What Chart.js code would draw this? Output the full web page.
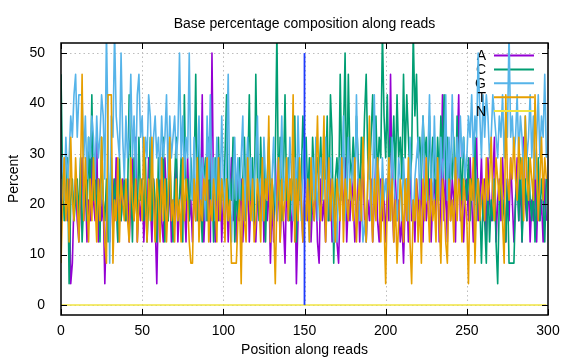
<!DOCTYPE html>
<html><head><meta charset="utf-8">
<script src="https://cdn.jsdelivr.net/npm/chart.js@4/dist/chart.umd.min.js"></script>
<style>html,body{margin:0;padding:0;background:#fff}#wrap{width:576px;height:360px;position:relative}</style>
</head><body><div id="wrap"><canvas id="c" width="576" height="360"></canvas></div>
<script>
const chartTitle = 'Base percentage composition along reads';
const xTitle = 'Position along reads';
const yTitle = 'Percent';
const seriesNames = ['A', 'C', 'G', 'T', 'N'];
const seriesColors = ['#9400d3', '#009e73', '#56b4e9', '#e69f00', '#f0e442'];
const markerColor = '#1f3cff';
const xTicks = [0, 50, 100, 150, 200, 250, 300];
const yTicks = [0, 10, 20, 30, 40, 50];

const pctA = [
16.7,20.8,25,20.8,16.7,25,4.2,8.3,20.8,25, 16.7,12.5,20.8,29.2,16.7,25,12.5,20.8,16.7,29.2,
20.8,16.7,33.3,12.5,25,16.7,20.8,4.2,16.7,25, 12.5,20.8,25,16.7,29.2,12.5,20.8,16.7,25,20.8,
16.7,25,12.5,20.8,29.2,16.7,33.3,12.5,20.8,16.7, 25,12.5,20.8,16.7,29.2,20.8,12.5,25,16.7,4.2,
20.8,25,16.7,12.5,29.2,20.8,16.7,25,12.5,20.8, 16.7,29.2,12.5,20.8,25,16.7,20.8,12.5,29.2,16.7,
20.8,12.5,25,16.7,20.8,29.2,16.7,41.7,12.5,20.8, 16.7,25,12.5,50,20.8,12.5,25,16.7,29.2,12.5,
20.8,16.7,25,12.5,20.8,29.2,16.7,20.8,12.5,25, 16.7,25,12.5,20.8,16.7,29.2,12.5,20.8,25,16.7,
12.5,20.8,25,16.7,29.2,12.5,20.8,16.7,25,8.3, 20.8,12.5,29.2,16.7,25,12.5,20.8,16.7,8.3,25,
16.7,25,12.5,20.8,29.2,4.2,16.7,25,20.8,12.5, 20.8,29.2,16.7,25,12.5,20.8,16.7,25,12.5,8.3,
25,16.7,20.8,12.5,29.2,16.7,25,12.5,20.8,16.7, 12.5,8.3,20.8,25,16.7,29.2,12.5,20.8,16.7,25,
20.8,12.5,16.7,25,12.5,20.8,29.2,16.7,12.5,20.8, 16.7,25,12.5,20.8,29.2,16.7,12.5,25,16.7,20.8,
12.5,25,16.7,45.8,20.8,12.5,25,16.7,20.8,12.5, 16.7,8.3,20.8,25,12.5,29.2,16.7,20.8,12.5,25,
20.8,16.7,25,12.5,29.2,16.7,20.8,25,12.5,20.8, 25,16.7,29.2,12.5,20.8,41.7,16.7,25,12.5,29.2,
16.7,25,20.8,12.5,29.2,41.7,16.7,25,12.5,20.8, 25,16.7,29.2,20.8,12.5,25,33.3,16.7,20.8,29.2,
16.7,25,12.5,29.2,20.8,16.7,25,33.3,12.5,20.8, 25,16.7,29.2,20.8,12.5,25,16.7,29.2,20.8,12.5,
20.8,29.2,16.7,25,12.5,33.3,20.8,16.7,25,12.5, 20.8,16.7,29.2,12.5,25,16.7,20.8,12.5,25,16.7
];
const pctC = [
45.8,25,16.7,20.8,29.2,4.2,20.8,25,16.7,20.8, 25,16.7,29.2,12.5,20.8,25,16.7,33.3,20.8,41.7,
20.8,29.2,16.7,25,12.5,33.3,20.8,16.7,25,12.5, 20.8,29.2,16.7,25,20.8,12.5,29.2,16.7,20.8,25,
16.7,20.8,41.7,25,12.5,29.2,20.8,16.7,33.3,20.8, 25,16.7,29.2,12.5,20.8,33.3,16.7,25,20.8,12.5,
29.2,16.7,20.8,33.3,12.5,25,16.7,29.2,20.8,12.5, 25,33.3,16.7,20.8,29.2,12.5,41.7,20.8,25,16.7,
29.2,20.8,25,45.8,16.7,33.3,20.8,12.5,25,29.2, 16.7,33.3,20.8,25,12.5,29.2,20.8,33.3,16.7,25,
20.8,29.2,41.7,16.7,25,20.8,33.3,12.5,25,16.7, 29.2,20.8,25,33.3,16.7,25,41.7,20.8,29.2,16.7,
45.8,25,16.7,33.3,20.8,29.2,12.5,25,33.3,20.8, 25,16.7,29.2,54.2,20.8,33.3,16.7,25,41.7,20.8,
29.2,16.7,25,20.8,37.5,12.5,29.2,20.8,25,37.5, 25,33.3,20.8,29.2,16.7,33.3,25,20.8,29.2,25,
33.3,20.8,29.2,25,37.5,16.7,41.7,33.3,8.3,25, 29.2,20.8,45.8,25,33.3,50,20.8,45.8,29.2,25,
33.3,25,37.5,29.2,20.8,33.3,25,37.5,45.8,29.2, 25,33.3,41.7,29.2,37.5,25,33.3,29.2,54.2,37.5,
29.2,41.7,25,33.3,29.2,37.5,25,41.7,29.2,33.3, 25,45.8,29.2,41.7,33.3,25,29.2,54.2,37.5,45.8,
29.2,33.3,25,37.5,29.2,33.3,20.8,37.5,25,33.3, 29.2,20.8,33.3,25,37.5,29.2,41.7,25,33.3,20.8,
29.2,25,33.3,20.8,37.5,25,29.2,20.8,33.3,25, 20.8,29.2,16.7,25,20.8,33.3,16.7,25,20.8,8.3,
20.8,16.7,8.3,25,12.5,20.8,16.7,25,12.5,4.2, 20.8,25,16.7,20.8,12.5,25,8.3,8.3,8.3,8.3,
20.8,25,16.7,29.2,12.5,20.8,25,16.7,29.2,20.8, 16.7,25,12.5,20.8,29.2,16.7,25,20.8,12.5,25
];
const pctG = [
25,29.2,20.8,33.3,25,29.2,37.5,33.3,41.7,45.8, 33.3,41.7,41.7,41.7,29.2,37.5,25,33.3,29.2,37.5,
33.3,25,37.5,29.2,33.3,41.7,37.5,25,54.2,33.3, 8.3,37.5,33.3,54.2,37.5,33.3,29.2,50,33.3,25,
37.5,29.2,33.3,45.8,29.2,37.5,25,41.7,45.8,33.3, 37.5,25,33.3,29.2,41.7,37.5,25,33.3,37.5,29.2,
33.3,25,37.5,29.2,33.3,41.7,25,37.5,29.2,33.3, 37.5,29.2,33.3,50,29.2,37.5,25,33.3,29.2,50,
25,20.8,33.3,16.7,29.2,37.5,20.8,29.2,25,16.7, 37.5,25,41.7,20.8,29.2,16.7,33.3,25,20.8,37.5,
25,16.7,29.2,45.8,20.8,12.5,25,33.3,20.8,29.2, 20.8,29.2,37.5,16.7,25,33.3,20.8,29.2,16.7,25,
29.2,37.5,20.8,25,16.7,33.3,25,20.8,29.2,16.7, 25,33.3,20.8,16.7,29.2,25,37.5,20.8,25,29.2,
20.8,33.3,25,16.7,29.2,20.8,37.5,25,16.7,29.2, 33.3,25,20.8,12.5,25,29.2,20.8,33.3,16.7,25,
29.2,20.8,25,33.3,16.7,25,29.2,20.8,12.5,16.7, 12.5,25,29.2,20.8,37.5,16.7,25,33.3,20.8,25,
29.2,20.8,41.7,25,16.7,20.8,12.5,16.7,12.5,25, 29.2,16.7,25,41.7,20.8,29.2,25,16.7,29.2,20.8,
25,20.8,29.2,16.7,33.3,25,20.8,16.7,29.2,25, 16.7,29.2,20.8,25,16.7,33.3,20.8,16.7,25,29.2,
33.3,20.8,29.2,37.5,25,20.8,29.2,41.7,25,20.8, 37.5,25,29.2,20.8,33.3,25,29.2,41.7,20.8,33.3,
25,41.7,29.2,20.8,33.3,25,37.5,29.2,33.3,25, 29.2,37.5,33.3,41.7,29.2,37.5,33.3,50,37.5,29.2,
41.7,33.3,41.7,37.5,29.2,33.3,41.7,37.5,33.3,29.2, 37.5,33.3,41.7,29.2,37.5,33.3,54.2,33.3,37.5,29.2,
33.3,41.7,29.2,37.5,33.3,25,37.5,29.2,33.3,41.7, 29.2,37.5,25,33.3,41.7,29.2,37.5,33.3,45.8,29.2
];
const pctT = [
8.3,20.8,29.2,16.7,25,12.5,33.3,20.8,16.7,29.2, 20.8,12.5,25,45.8,16.7,29.2,20.8,12.5,25,16.7,
29.2,20.8,12.5,25,16.7,33.3,20.8,12.5,8.3,41.7, 41.7,41.7,8.3,20.8,16.7,29.2,12.5,25,20.8,16.7,
25,16.7,12.5,29.2,20.8,16.7,25,12.5,20.8,25, 16.7,33.3,20.8,12.5,25,16.7,33.3,20.8,12.5,25,
20.8,12.5,29.2,16.7,25,12.5,20.8,33.3,16.7,20.8, 12.5,25,16.7,20.8,12.5,29.2,16.7,25,20.8,12.5,
8.3,8.3,25,16.7,29.2,12.5,20.8,16.7,25,20.8, 29.2,12.5,20.8,16.7,25,20.8,12.5,29.2,16.7,25,
20.8,12.5,25,16.7,20.8,8.3,8.3,8.3,8.3,16.7, 20.8,4.2,25,16.7,12.5,29.2,20.8,16.7,25,12.5,
16.7,25,20.8,12.5,29.2,16.7,25,20.8,37.5,12.5, 25,16.7,4.2,20.8,29.2,12.5,25,16.7,20.8,29.2,
16.7,25,20.8,41.7,12.5,25,16.7,29.2,20.8,12.5, 20.8,16.7,25,12.5,29.2,20.8,16.7,25,37.5,20.8,
16.7,25,37.5,12.5,20.8,29.2,16.7,25,20.8,12.5, 25,20.8,16.7,29.2,12.5,25,20.8,16.7,25,20.8,
16.7,29.2,12.5,20.8,25,16.7,33.3,20.8,12.5,25, 37.5,20.8,12.5,25,16.7,29.2,20.8,12.5,25,16.7,
4.2,20.8,29.2,16.7,25,12.5,20.8,8.3,16.7,25, 20.8,12.5,25,16.7,29.2,12.5,4.2,20.8,16.7,25,
12.5,20.8,8.3,25,16.7,29.2,20.8,12.5,25,16.7, 20.8,12.5,29.2,16.7,8.3,25,20.8,12.5,8.3,25,
16.7,20.8,12.5,29.2,16.7,25,20.8,12.5,25,20.8, 16.7,4.2,25,20.8,29.2,8.3,20.8,25,16.7,20.8,
25,16.7,29.2,20.8,25,33.3,20.8,16.7,29.2,25, 20.8,29.2,16.7,8.3,41.7,25,20.8,29.2,25,33.3,
25,20.8,33.3,25,29.2,16.7,37.5,25,20.8,29.2, 25,20.8,41.7,29.2,16.7,25,33.3,20.8,29.2,25
];
const pctN = [
0,0,0,0,0,0,0,0,0,0,0,0,0,0,0,0,0,0,0,0,0,0,0,0,0,0,0,0,0,0,0,0,0,0,0,0,0,0,0,0,0,0,0,0,0,0,0,0,0,0,
0,0,0,0,0,0,0,0,0,0,0,0,0,0,0,0,0,0,0,0,0,0,0,0,0,0,0,0,0,0,0,0,0,0,0,0,0,0,0,0,0,0,0,0,0,0,0,0,0,0,
0,0,0,0,0,0,0,0,0,0,0,0,0,0,0,0,0,0,0,0,0,0,0,0,0,0,0,0,0,0,0,0,0,0,0,0,0,0,0,0,0,0,0,0,0,0,0,0,0,0,
0,0,0,0,0,0,0,0,0,0,0,0,0,0,0,0,0,0,0,0,0,0,0,0,0,0,0,0,0,0,0,0,0,0,0,0,0,0,0,0,0,0,0,0,0,0,0,0,0,0,
0,0,0,0,0,0,0,0,0,0,0,0,0,0,0,0,0,0,0,0,0,0,0,0,0,0,0,0,0,0,0,0,0,0,0,0,0,0,0,0,0,0,0,0,0,0,0,0,0,0,
0,0,0,0,0,0,0,0,0,0,0,0,0,0,0,0,0,0,0,0,0,0,0,0,0,0,0,0,0,0,0,0,0,0,0,0,0,0,0,0,0,0,0,0,0,0,0,0,0,0
];
const boundaryX = [150, 150];
const boundaryY = [0, 50];

const positions = pctA.map((_, i) => i);
const FONT = "'Liberation Sans', Arial, sans-serif";
const allSeries = [pctA, pctC, pctG, pctT, pctN];

const datasets = allSeries.map((vals, k) => ({
  label: seriesNames[k],
  data: vals.map((v, i) => ({ x: positions[i], y: v })),
  borderColor: seriesColors[k],
  backgroundColor: seriesColors[k],
  borderWidth: 1.6,
  borderJoinStyle: 'round',
  pointRadius: 0,
  tension: 0,
  fill: false,
  order: 10 - k
}));
datasets.push({
  label: '',
  data: boundaryX.map((x, i) => ({ x, y: boundaryY[i] })),
  borderColor: markerColor,
  borderWidth: 1.8,
  pointRadius: 0,
  fill: false,
  order: 1
});

const gnuPlugin = {
  id: 'gnu',
  beforeDatasetsDraw(chart) {
    const { ctx, chartArea: a, scales: { x, y } } = chart;
    ctx.save();
    ctx.strokeStyle = '#bdbdbd';
    ctx.lineWidth = 1;
    ctx.setLineDash([1.5, 3]);
    xTicks.forEach(v => {
      const px = Math.round(x.getPixelForValue(v)) + 0.5;
      if (px <= a.left + 2 || px >= a.right - 2) return;
      ctx.beginPath(); ctx.moveTo(px, a.top); ctx.lineTo(px, a.bottom); ctx.stroke();
    });
    yTicks.forEach(v => {
      const py = Math.round(y.getPixelForValue(v)) + 0.5;
      ctx.beginPath(); ctx.moveTo(a.left, py); ctx.lineTo(a.right, py); ctx.stroke();
    });
    ctx.restore();
  },
  beforeDatasetDraw(chart, args) {
    const k = args.index;
    if (k >= seriesNames.length) return;
    const { ctx, chartArea: a } = chart;
    const rowY = a.top + 12.5 + k * 13.9;
    ctx.save();
    ctx.fillStyle = '#000';
    ctx.font = "14px 'Liberation Sans Narrow', 'Liberation Sans', Arial, sans-serif";
    ctx.textAlign = 'right';
    ctx.textBaseline = 'middle';
    ctx.fillText(seriesNames[k], a.right - 62, rowY + 1);
    ctx.strokeStyle = seriesColors[k];
    ctx.lineWidth = 2;
    ctx.beginPath(); ctx.moveTo(a.right - 54, rowY); ctx.lineTo(a.right - 14, rowY); ctx.stroke();
    ctx.restore();
  },
  afterDraw(chart) {
    const { ctx, chartArea: a, scales: { x, y } } = chart;
    ctx.save();
    ctx.strokeStyle = '#000';
    ctx.lineWidth = 1;
    const tl = 6;
    xTicks.forEach(v => {
      const px = Math.round(x.getPixelForValue(v)) + 0.5;
      ctx.beginPath(); ctx.moveTo(px, a.bottom); ctx.lineTo(px, a.bottom - tl); ctx.stroke();
      ctx.beginPath(); ctx.moveTo(px, a.top); ctx.lineTo(px, a.top + tl); ctx.stroke();
    });
    yTicks.forEach(v => {
      const py = Math.round(y.getPixelForValue(v)) + 0.5;
      ctx.beginPath(); ctx.moveTo(a.left, py); ctx.lineTo(a.left + tl, py); ctx.stroke();
      ctx.beginPath(); ctx.moveTo(a.right, py); ctx.lineTo(a.right - tl, py); ctx.stroke();
    });
    ctx.lineWidth = 1.5;
    ctx.strokeRect(a.left, a.top, a.right - a.left, a.bottom - a.top);
    ctx.fillStyle = '#000';
    ctx.font = '14px ' + FONT;
    ctx.textAlign = 'center';
    ctx.textBaseline = 'alphabetic';
    const cx = (a.left + a.right) / 2;
    ctx.fillText(chartTitle, cx, 28);
    ctx.fillText(xTitle, cx, 354);
    ctx.translate(18, (a.top + a.bottom) / 2);
    ctx.rotate(-Math.PI / 2);
    ctx.fillText(yTitle, 0, 0);
    ctx.restore();
  }
};

new Chart(document.getElementById('c'), {
  type: 'line',
  data: { datasets },
  options: {
    responsive: false,
    animation: false,
    layout: { padding: { top: 43, right: 28, left: 0, bottom: 0 } },
    plugins: { legend: { display: false }, title: { display: false }, tooltip: { enabled: false } },
    scales: {
      x: {
        type: 'linear', min: 0, max: 300,
        afterBuildTicks: s => { s.ticks = xTicks.map(v => ({ value: v })); },
        afterFit: s => { s.height = 45; },
        grid: { display: false },
        border: { display: false },
        ticks: { color: '#000', font: { family: FONT, size: 14 }, padding: 0, maxRotation: 0, autoSkip: false }
      },
      y: {
        type: 'linear', min: -2, max: 52,
        afterBuildTicks: s => { s.ticks = yTicks.map(v => ({ value: v })); },
        afterFit: s => { s.width = 61; },
        grid: { display: false },
        border: { display: false },
        ticks: { color: '#000', font: { family: FONT, size: 14 }, padding: 8, autoSkip: false }
      }
    }
  },
  plugins: [gnuPlugin]
});
</script>
</body></html>
